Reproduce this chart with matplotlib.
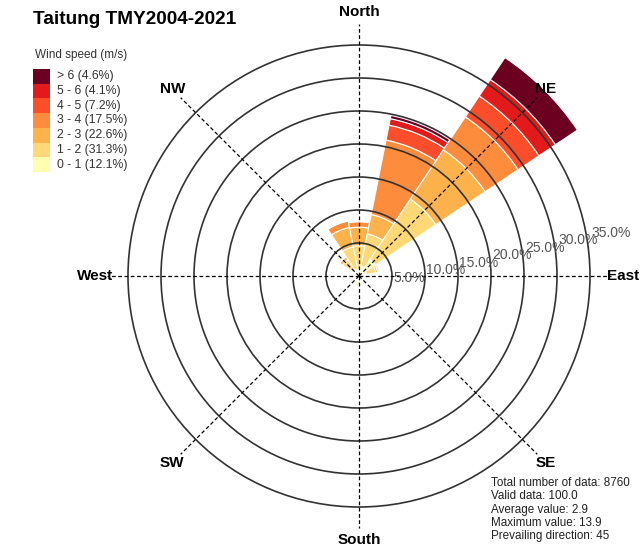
import numpy as np
import matplotlib
matplotlib.use("Agg")
import matplotlib.pyplot as plt
from matplotlib.patches import Wedge, Rectangle, Circle

plt.rcParams['font.family'] = ['Liberation Sans', 'DejaVu Sans']

# 16 direction sectors, bearing in degrees clockwise from north
directions = ['N', 'NNE', 'NE', 'ENE', 'E', 'ESE', 'SE', 'SSE',
              'S', 'SSW', 'SW', 'WSW', 'W', 'WNW', 'NW', 'NNW']
bearings = np.arange(16) * 22.5

speed_bins = ['0 - 1', '1 - 2', '2 - 3', '3 - 4', '4 - 5', '5 - 6', '> 6']
bin_share = [12.1, 31.3, 22.6, 17.5, 7.2, 4.1, 4.6]
bin_colors = ['#ffffb2', '#fed976', '#feb24c', '#fd8d3c', '#fc4e2a', '#e31a1c', '#6b0021']

# frequency (%) of each speed bin per direction (N, NNE, ... NNW)
freq_0_1 = [1.0, 1.5, 3.0, 1.2, 0.6, 0.4, 0.3, 0.5, 1.4, 0.4, 0.3, 0.3, 0.3, 0.5, 1.0, 1.0]
freq_1_2 = [3.6, 5.0, 11.0, 1.4, 0.2, 0.1, 0.0, 0.0, 0.0, 0.0, 0.0, 0.0, 0.0, 0.3, 2.0, 3.5]
freq_2_3 = [2.8, 3.0, 9.0, 0.3, 0.0, 0.0, 0.0, 0.0, 0.0, 0.0, 0.0, 0.0, 0.0, 0.0, 0.5, 3.0]
freq_3_4 = [0.8, 11.5, 6.0, 0.2, 0.0, 0.0, 0.0, 0.0, 0.0, 0.0, 0.0, 0.0, 0.0, 0.0, 0.1, 1.0]
freq_4_5 = [0.0, 2.3, 3.8, 0.0, 0.0, 0.0, 0.0, 0.0, 0.0, 0.0, 0.0, 0.0, 0.0, 0.0, 0.0, 0.1]
freq_5_6 = [0.0, 1.0, 3.0, 0.0, 0.0, 0.0, 0.0, 0.0, 0.0, 0.0, 0.0, 0.0, 0.0, 0.0, 0.0, 0.0]
freq_6up = [0.0, 0.5, 4.0, 0.0, 0.0, 0.0, 0.0, 0.0, 0.0, 0.0, 0.0, 0.0, 0.0, 0.0, 0.0, 0.0]
freqs = [freq_0_1, freq_1_2, freq_2_3, freq_3_4, freq_4_5, freq_5_6, freq_6up]

ring_levels = [5, 10, 15, 20, 25, 30, 35]
compass_names = ['North', 'NE', 'East', 'SE', 'South', 'SW', 'West', 'NW']
stats_lines = ['Total number of data: 8760', 'Valid data: 100.0', 'Average value: 2.9',
               'Maximum value: 13.9', 'Prevailing direction: 45']

W, H = 641, 548
cx, cy = 359, 276      # centre of the rose in pixels
scale = 6.6            # pixels per percent

fig = plt.figure(figsize=(W / 100, H / 100), dpi=100)
ax = fig.add_axes([0, 0, 1, 1])
ax.set_xlim(-cx / scale, (W - cx) / scale)
ax.set_ylim(-(H - cy) / scale, cy / scale)
ax.axis('off')


def px(x, y):
    return x / W, 1 - y / H


# stacked sectors
half = 22.5 / 2
for i, b in enumerate(bearings):
    inner = 0.0
    for k in range(len(speed_bins)):
        v = freqs[k][i]
        if v <= 0:
            continue
        outer = inner + v
        ax.add_patch(Wedge((0, 0), outer, 90 - b - half, 90 - b + half, width=v,
                           facecolor=bin_colors[k], edgecolor='white', lw=0.8, zorder=2))
        inner = outer

# rings
for r in ring_levels:
    ax.add_patch(Circle((0, 0), r, fill=False, ec='#333333', lw=1.2, zorder=3))
for k, r in enumerate(ring_levels):
    ax.text(r + 0.15, -0.3 + 1.14 * k, f'{r:.1f}%', fontsize=10, color='#555555',
            ha='left', va='center', zorder=5)

# dashed spokes and direction names
for j, name in enumerate(compass_names):
    b = np.radians(j * 45)
    ax.plot([0, 38.2 * np.sin(b)], [0, 38.2 * np.cos(b)], color='black', lw=0.9,
            ls=(0, (3, 2)), zorder=4)
    ax.text(40 * np.sin(b), 40 * np.cos(b), name, fontsize=11, fontweight='bold',
            ha='center', va='center', zorder=5)

# title
fig.text(*px(33, 20), 'Taitung TMY2004-2021', fontsize=13.7, fontweight='bold',
         ha='left', va='center')

# legend
fig.text(*px(35, 55), 'Wind speed (m/s)', fontsize=8.5, color='#333333', ha='left', va='center')
box_h = 14.7
for n in range(len(speed_bins)):
    k = len(speed_bins) - 1 - n
    top = 69 + n * box_h
    x0, y0 = px(33, top + box_h)
    fig.patches.append(Rectangle((x0, y0), 17 / W, box_h / H, transform=fig.transFigure,
                                 facecolor=bin_colors[k], edgecolor='none'))
    fig.text(*px(57, top + box_h / 2), f'{speed_bins[k]} ({bin_share[k]}%)',
             fontsize=8.8, color='#333333', ha='left', va='center')

# statistics
for n, line in enumerate(stats_lines):
    fig.text(*px(491, 483 + n * 13.3), line, fontsize=8.4, color='#222222',
             ha='left', va='center')

fig.savefig('out.png', dpi=100)
